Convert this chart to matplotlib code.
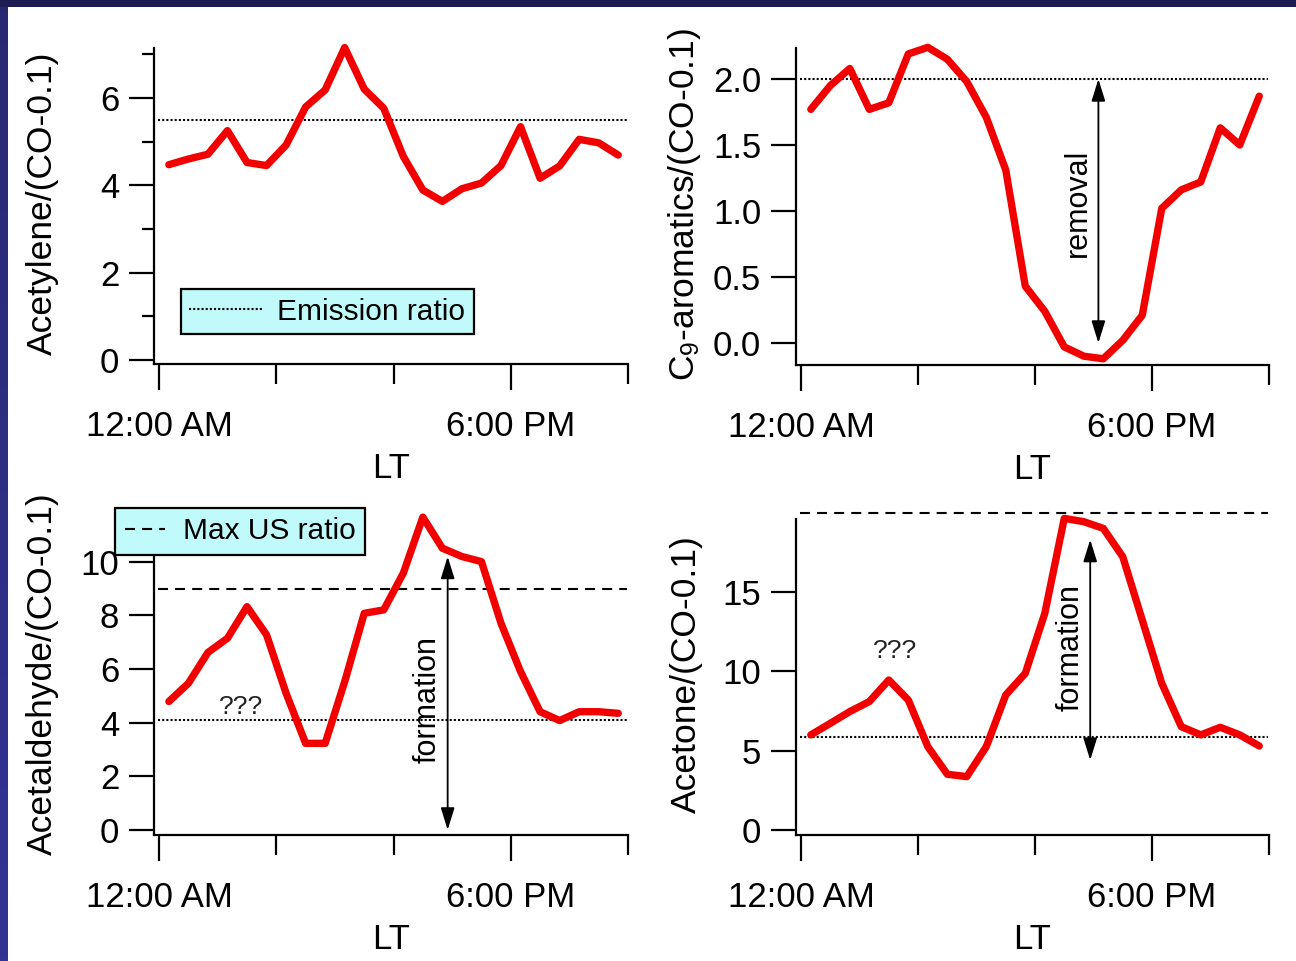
import numpy as np
import matplotlib
matplotlib.use("Agg")
import matplotlib.pyplot as plt

plt.rcParams['font.family'] = ['Liberation Sans', 'DejaVu Sans']
plt.rcParams['mathtext.fontset'] = 'custom'
plt.rcParams['mathtext.rm'] = 'Liberation Sans'
plt.rcParams['mathtext.it'] = 'Liberation Sans:italic'
plt.rcParams['mathtext.bf'] = 'Liberation Sans:bold'

# Local time (hours), hourly bin centres
hours = [0.5, 1.5, 2.5, 3.5, 4.5, 5.5, 6.5, 7.5, 8.5, 9.5, 10.5, 11.5,
         12.5, 13.5, 14.5, 15.5, 16.5, 17.5, 18.5, 19.5, 20.5, 21.5, 22.5, 23.5]

# Enhancement ratios to (CO - 0.1)
acetylene = [4.47, 4.60, 4.71, 5.25, 4.52, 4.45, 4.92, 5.79, 6.18, 7.15, 6.20, 5.76,
             4.66, 3.89, 3.63, 3.92, 4.05, 4.45, 5.34, 4.16, 4.44, 5.05, 4.97, 4.69]
c9_aromatics = [1.77, 1.95, 2.08, 1.77, 1.82, 2.19, 2.24, 2.15, 1.98, 1.71, 1.31, 0.43,
                0.24, -0.03, -0.10, -0.12, 0.02, 0.21, 1.02, 1.16, 1.22, 1.63, 1.50, 1.87]
acetaldehyde = [4.79, 5.47, 6.62, 7.15, 8.33, 7.28, 5.10, 3.23, 3.23, 5.53, 8.08, 8.21,
                9.58, 11.67, 10.51, 10.20, 10.01, 7.71, 5.91, 4.41, 4.08, 4.41, 4.41, 4.35]
acetone = [5.99, 6.72, 7.46, 8.09, 9.45, 8.19, 5.25, 3.51, 3.36, 5.25, 8.51, 9.87,
           13.65, 19.64, 19.43, 19.01, 17.22, 13.23, 9.24, 6.51, 5.99, 6.47, 5.99, 5.29]

# Reference ratios
emission_ratio = {'acetylene': 5.5, 'c9': 2.0, 'acetaldehyde': 4.1, 'acetone': 5.85}
max_us_ratio = {'acetaldehyde': 9.0, 'acetone': 20.0}

xtick_major = [0, 18]
xtick_minor = [6, 12, 24]
xtick_labels = ['12:00 AM', '6:00 PM']

RED = '#f20000'
CYAN = '#c0fafa'
FS = 25
FS_LABEL = 25.5

W, H = 1296, 961
fig = plt.figure(figsize=(W / 100, H / 100), dpi=100)
fig.patch.set_facecolor('white')

# slide frame: navy top band and indigo left band
top_band = fig.add_axes([0, 1 - 7 / H, 1, 7 / H])
top_band.set_facecolor('#1d1d52')
top_band.set_xticks([]); top_band.set_yticks([])
for s in top_band.spines.values():
    s.set_visible(False)
left_band = fig.add_axes([0, 0, 8 / W, 1 - 7 / H])
grad = np.linspace(0, 1, 256).reshape(-1, 1)
c_top = np.array([0.16, 0.16, 0.45])
c_bot = np.array([0.20, 0.20, 0.58])
img = c_top[None, None, :] * (1 - grad[:, :, None]) + c_bot[None, None, :] * grad[:, :, None]
left_band.imshow(img, aspect='auto', extent=[0, 1, 0, 1])
left_band.axis('off')


def px_axes(x0, y0, x1, y1):
    return fig.add_axes([x0 / W, 1 - y1 / H, (x1 - x0) / W, (y1 - y0) / H])


def style_axes(ax, ylim, yticks, yminor=None, fmt='{:g}'):
    ax.set_xlim(-0.26, 24.0)
    ax.set_ylim(*ylim)
    for side in ('top', 'right'):
        ax.spines[side].set_visible(False)
    for side in ('left', 'bottom'):
        ax.spines[side].set_linewidth(1.6)
    ax.set_xticks(xtick_major)
    ax.set_xticklabels(xtick_labels)
    ax.set_xticks(xtick_minor, minor=True)
    ax.set_yticks(yticks)
    ax.set_yticklabels([fmt.format(v) for v in yticks])
    if yminor is not None:
        ax.set_yticks(yminor, minor=True)
    else:
        ax.set_yticks([], minor=True)
    ax.tick_params(axis='x', which='major', length=19, width=1.6, pad=14,
                   labelsize=FS, direction='out')
    ax.tick_params(axis='x', which='minor', length=14.5, width=1.6, direction='out')
    ax.tick_params(axis='y', which='major', length=18, width=1.6, pad=7,
                   labelsize=FS, direction='out')
    ax.tick_params(axis='y', which='minor', length=8.6, width=1.6, direction='out')
    ax.set_xlabel('LT', fontsize=FS)
    ax.xaxis.set_label_coords(0.5, -0.277)


def ref_line(ax, value, dotted=True):
    if dotted:
        ls = (0, (1, 1))
    else:
        ls = (0, (4.8, 3.4))
    return ax.plot([-0.05, 23.95], [value, value], color='black', lw=1.5,
                   linestyle=ls, clip_on=False, zorder=2)[0]


def series(ax, y):
    ax.plot(hours, y, color=RED, lw=5.3, solid_joinstyle='round',
            solid_capstyle='round', clip_on=False, zorder=3)


def double_arrow(ax, x, y0, y1):
    ax.annotate('', xy=(x, y1), xytext=(x, y0),
                arrowprops=dict(arrowstyle='<|-|>,head_length=0.9,head_width=0.28',
                                mutation_scale=15, color='black', lw=1.3,
                                shrinkA=0, shrinkB=0),
                annotation_clip=False, zorder=4)


def style_legend(leg):
    frame = leg.get_frame()
    frame.set_facecolor(CYAN)
    frame.set_edgecolor('black')
    frame.set_linewidth(1.6)
    frame.set_alpha(1)
    leg.set_zorder(10)


# Acetylene
ax1 = px_axes(154, 48, 628, 364)
style_axes(ax1, (-0.09, 7.14), [0, 2, 4, 6], yminor=[1, 3, 5, 7])
er1 = ref_line(ax1, emission_ratio['acetylene'], dotted=True)
series(ax1, acetylene)
ax1.set_ylabel('Acetylene/(CO-0.1)', fontsize=FS_LABEL)
ax1.yaxis.set_label_coords(-0.2, 0.51)
leg1 = ax1.legend([er1], ['Emission ratio'], loc='lower left',
                  bbox_to_anchor=((181 - 154) / 474, (364 - 334) / 316),
                  borderaxespad=0, fontsize=21.5, frameon=True, fancybox=False,
                  handlelength=2.5, handletextpad=0.45, borderpad=0.28)
style_legend(leg1)

# C9 aromatics
ax2 = px_axes(796, 48, 1269, 365)
style_axes(ax2, (-0.167, 2.235), [0.0, 0.5, 1.0, 1.5, 2.0], fmt='{:.1f}')
ref_line(ax2, emission_ratio['c9'], dotted=True)
series(ax2, c9_aromatics)
ax2.set_ylabel(r'C$_{\mathrm{9}}$-aromatics/(CO-0.1)', fontsize=FS_LABEL)
ax2.yaxis.set_label_coords(-0.196, 0.505)
double_arrow(ax2, 15.25, 0.0, 2.0)
ax2.text(14.2, 1.06, 'removal', rotation=90, fontsize=22, ha='center', va='center')

# Acetaldehyde
ax3 = px_axes(154, 519, 628, 835)
style_axes(ax3, (-0.19, 11.6), [0, 2, 4, 6, 8, 10])
ref_line(ax3, emission_ratio['acetaldehyde'], dotted=True)
mus3 = ref_line(ax3, max_us_ratio['acetaldehyde'], dotted=False)
series(ax3, acetaldehyde)
ax3.set_ylabel('Acetaldehyde/(CO-0.1)', fontsize=FS_LABEL)
ax3.yaxis.set_label_coords(-0.2, 0.51)
double_arrow(ax3, 14.77, 0.0, 10.2)
ax3.text(13.75, 4.85, 'formation', rotation=90, fontsize=22, ha='center', va='center')
ax3.text(4.2, 4.6, '???', fontsize=19, ha='center', va='center', color='#222222')
leg3 = ax3.legend([mus3], ['Max US ratio'], loc='lower left',
                  bbox_to_anchor=((115 - 154) / 474, (835 - 555) / 316),
                  borderaxespad=0, fontsize=21.5, frameon=True, fancybox=False,
                  handlelength=1.35, handletextpad=0.6, borderpad=0.32)
style_legend(leg3)

# Acetone
ax4 = px_axes(796, 519, 1269, 835)
style_axes(ax4, (-0.32, 19.6), [0, 5, 10, 15])
ref_line(ax4, emission_ratio['acetone'], dotted=True)
ref_line(ax4, max_us_ratio['acetone'], dotted=False)
series(ax4, acetone)
ax4.set_ylabel('Acetone/(CO-0.1)', fontsize=FS_LABEL)
ax4.yaxis.set_label_coords(-0.196, 0.51)
double_arrow(ax4, 14.83, 4.4, 18.3)
ax4.text(13.8, 11.5, 'formation', rotation=90, fontsize=22, ha='center', va='center')
ax4.text(4.8, 11.3, '???', fontsize=19, ha='center', va='center', color='#222222')

fig.savefig('out.png', dpi=100)
